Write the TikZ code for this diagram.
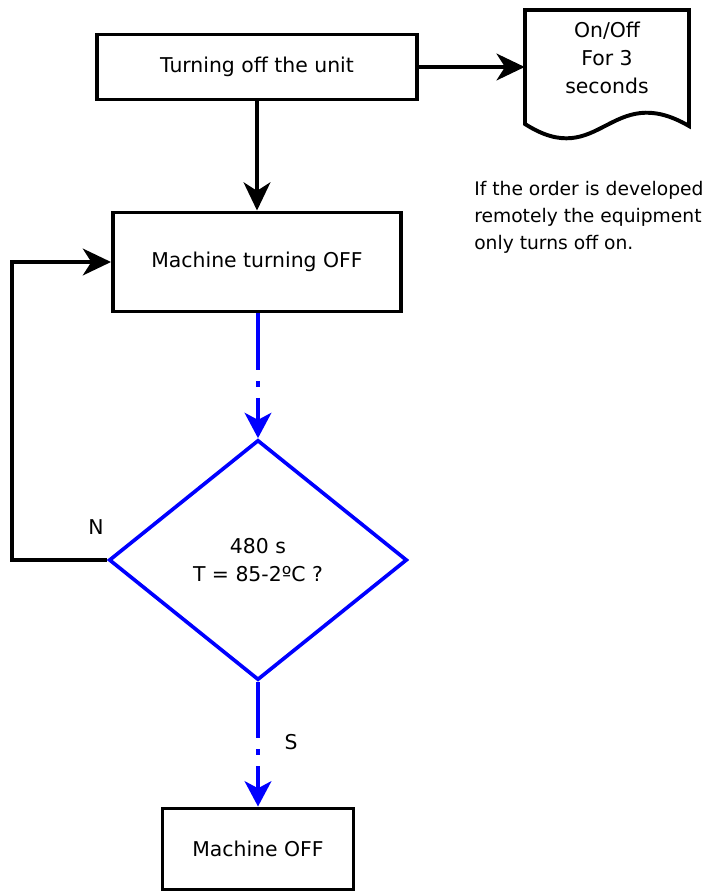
\documentclass[tikz,border=0pt]{standalone}
\usepackage{fontspec}
\setmainfont{DejaVu Sans}
\usetikzlibrary{arrows.meta,shapes.geometric}

\begin{document}
\begin{tikzpicture}[x=0.025cm,y=-0.025cm,
	every node/.style={font=\fontsize{14.5}{19}\selectfont},
	box/.style={draw, line width=2.8pt, inner sep=0pt, align=center},
	flow/.style={line width=2.8pt, -{Stealth[length=20pt,width=19pt,inset=6pt]}},
	blueflow/.style={blue, line width=2.6pt, dash pattern=on 40pt off 8pt on 4pt off 8pt, -{Stealth[length=18pt,width=19pt,inset=5pt]}}]
	\useasboundingbox (0,0) rectangle (715,894);
	\node[box, minimum width=7.975cm, minimum height=1.625cm] (unit) at (257,67) {Turning off the unit};
	\node[box, minimum width=7.2cm, minimum height=2.475cm] (turning) at (257,262) {Machine turning OFF};
	\node[draw=blue, line width=2.6pt, shape=diamond, minimum width=7.45cm, minimum height=6.0cm, inner sep=0pt, align=center] (check) at (258,560) {480 s\\[1pt]T = 85-2ºC ?};
	\node[box, minimum width=4.775cm, minimum height=2.025cm] (off) at (258,849) {Machine OFF};
	\node[minimum width=4.1cm, inner sep=0pt, align=center] (doc) at (607,58) {On/Off\\[1pt]For 3\\[1pt]seconds};
	\draw[line width=2.8pt] (525,10) -- (689,10) -- (689,126) .. controls (610,80) and (600,172) .. (525,124) -- cycle;
	\node[anchor=north west, align=left, inner sep=0pt, font=\fontsize{13.3}{19.2}\selectfont] (note) at (474,181) {If the order is developed\\remotely the equipment\\only turns off on.};
	\node (n) at (96,527) {N};
	\node (s) at (291,742) {S};
	\coordinate (loop) at (12,0);
	\draw[flow] (unit.east) -- (unit.east -| doc.west);
	\draw[flow] (unit.south -| turning.north) -- (turning.north);
	\draw[blueflow] (turning.south -| check.north) -- (check.north);
	\draw[flow] (check.west) -- (check.west -| loop) |- (turning.west);
	\draw[blueflow] (check.south) -- (off.north -| check.south);
\end{tikzpicture}
\end{document}
